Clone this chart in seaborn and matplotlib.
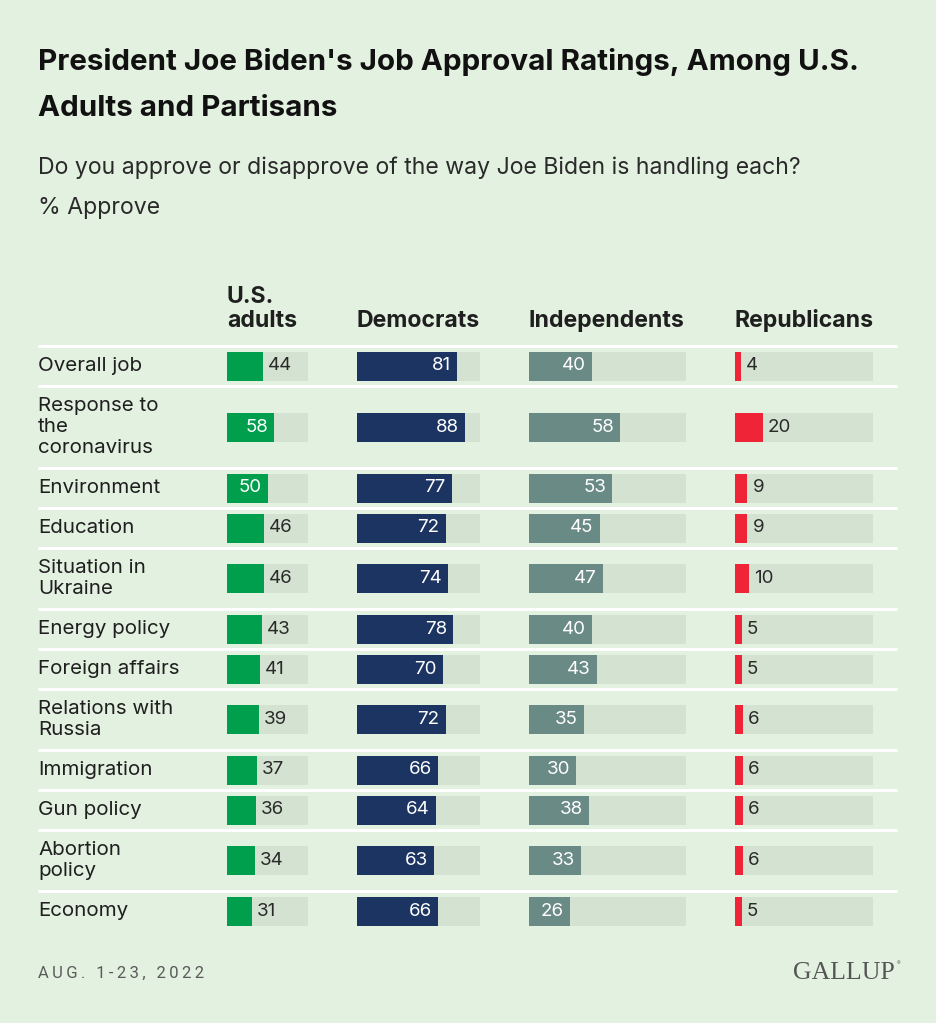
import numpy as np
import pandas as pd
import matplotlib
matplotlib.use("Agg")
import matplotlib.pyplot as plt
import seaborn as sns

topics = ["Overall job", "Response to\nthe\ncoronavirus", "Environment", "Education",
          "Situation in\nUkraine", "Energy policy", "Foreign affairs", "Relations with\nRussia",
          "Immigration", "Gun policy", "Abortion\npolicy", "Economy"]
us_adults = [44, 58, 50, 46, 46, 43, 41, 39, 37, 36, 34, 31]
democrats = [81, 88, 77, 72, 74, 78, 70, 72, 66, 64, 63, 66]
independents = [40, 58, 53, 45, 47, 40, 43, 35, 30, 38, 33, 26]
republicans = [4, 20, 9, 9, 10, 5, 5, 6, 6, 6, 6, 5]
groups = ["U.S.\nadults", "Democrats", "Independents", "Republicans"]

W, H = 936, 1023
BG = "#e3f1e0"
TRACK = "#d4e2d1"
DARK = "#1f1f1f"
colors = ["#009f4d", "#1b3461", "#6a8a86", "#ef2537"]

sns.set_theme(style="white")
plt.rcParams["font.family"] = ["Inter", "DejaVu Sans"]

fig = plt.figure(figsize=(W / 100, H / 100), dpi=100, facecolor=BG)

# eje de fondo en pixeles para textos y lineas
ax0 = fig.add_axes([0, 0, 1, 1])
ax0.set_xlim(0, W)
ax0.set_ylim(H, 0)
ax0.axis("off")
ax0.set_facecolor(BG)

# filas: la altura depende del numero de lineas de la etiqueta
top = 346
heights = [40 + 21 * (t.count("\n")) for t in topics]
edges = top + np.concatenate([[0], np.cumsum(heights)])
centers = (edges[:-1] + edges[1:]) / 2

df = pd.DataFrame({"topic": topics, "y": centers, "U.S.\nadults": us_adults,
                   "Democrats": democrats, "Independents": independents,
                   "Republicans": republicans})

# titulo y subtitulos
ax0.text(38, 70, "President Joe Biden's Job Approval Ratings, Among U.S.",
         fontsize=21.3, fontweight="bold", color="#111111", va="baseline")
ax0.text(38, 116, "Adults and Partisans", fontsize=21.3, fontweight="bold",
         color="#111111", va="baseline")
ax0.text(38, 174, "Do you approve or disapprove of the way Joe Biden is handling each?",
         fontsize=16.6, color="#2a2a2a", va="baseline")
ax0.text(38, 214, "% Approve", fontsize=16.6, color="#2a2a2a", va="baseline")

# lineas blancas separadoras
ax0.hlines(edges[:-1], 38, 897, color="white", linewidth=2.2)

for t, yc in zip(topics, centers):
    ax0.text(38, yc, t, fontsize=14.8, color=DARK, va="center", ha="left",
             linespacing=1.2)

# columnas
cols = [(227, 308), (357, 480), (529, 686), (735, 873)]
for g, (x0, x1), c in zip(groups, cols, colors):
    ax0.text(x0, 332, g, fontsize=16.6, fontweight="bold", color=DARK,
             va="bottom", ha="left", linespacing=1.1)
    ax = fig.add_axes([x0 / W, 0, (x1 - x0) / W, 1])
    ax.patch.set_alpha(0)
    df["track"] = 100
    sns.barplot(data=df, x="track", y="y", orient="y", native_scale=True,
                color=TRACK, saturation=1, width=29 / 40, linewidth=0, ax=ax)
    sns.barplot(data=df, x=g, y="y", orient="y", native_scale=True,
                color=c, saturation=1, width=29 / 40, linewidth=0, ax=ax)
    ax.set_xlim(0, 100)
    ax.set_ylim(H, 0)
    ax.axis("off")
    colw = x1 - x0
    for v, yc in zip(df[g], df["y"]):
        if v / 100 * colw >= 39:
            ax.annotate(str(v), xy=(v, yc), xytext=(-6, 0), textcoords="offset pixels",
                        ha="right", va="center", fontsize=13.5, color="white")
        else:
            ax.annotate(str(v), xy=(v, yc), xytext=(5, 0), textcoords="offset pixels",
                        ha="left", va="center", fontsize=13.5, color="#2a2a2a")

# pie
date = "\u2009".join("AUG. 1-23, 2022")
ax0.text(38, 978, date, fontsize=12, color="#5a5a5a",
         fontfamily=["Roboto", "DejaVu Sans"], va="baseline")
ax0.text(895, 979, "GALLUP", fontsize=18.5, color="#555555",
         fontfamily="Liberation Serif", va="baseline", ha="right")
ax0.text(897, 965, "®", fontsize=4, color="#555555", va="baseline", ha="left")

fig.savefig("out.png", dpi=100, facecolor=BG)
